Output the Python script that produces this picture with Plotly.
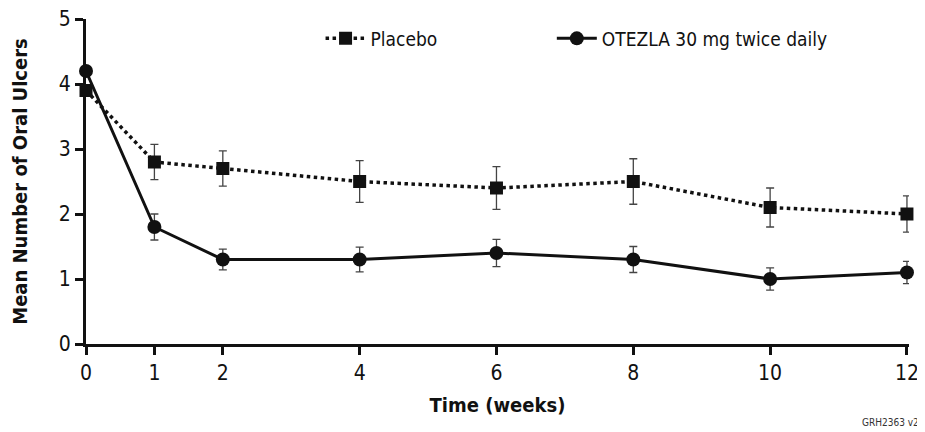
import plotly.graph_objects as go

weeks = [0, 1, 2, 4, 6, 8, 10, 12]
placebo = [3.9, 2.8, 2.7, 2.5, 2.4, 2.5, 2.1, 2.0]
placebo_err = [0, 0.27, 0.27, 0.32, 0.33, 0.35, 0.30, 0.28]
otezla = [4.2, 1.8, 1.3, 1.3, 1.4, 1.3, 1.0, 1.1]
otezla_err = [0, 0.2, 0.16, 0.19, 0.21, 0.2, 0.17, 0.17]
x_ticks = [0, 1, 2, 4, 6, 8, 10, 12]
y_ticks = [0, 1, 2, 3, 4, 5]

FONT = "DejaVu Sans Condensed, Liberation Sans Narrow, sans-serif"

fig = go.Figure()
fig.add_trace(go.Scatter(
    x=weeks, y=placebo, name="Placebo", mode="lines+markers", legend="legend",
    line=dict(color="#111111", width=3.5, dash="dot"),
    marker=dict(symbol="square", size=13, color="#111111"),
    error_y=dict(type="data", array=placebo_err, color="#444444", thickness=1.3, width=4),
    cliponaxis=False,
))
fig.add_trace(go.Scatter(
    x=weeks, y=otezla, name="OTEZLA 30 mg twice daily", mode="lines+markers", legend="legend2",
    line=dict(color="#111111", width=3),
    marker=dict(symbol="circle", size=14, color="#111111"),
    error_y=dict(type="data", array=otezla_err, color="#444444", thickness=1.3, width=4),
    cliponaxis=False,
))

leg_common = dict(orientation="h", yanchor="middle", xanchor="left",
                  font=dict(size=19, family=FONT, color="#111111"),
                  bgcolor="rgba(0,0,0,0)", itemwidth=40)

fig.update_layout(
    width=917, height=424,
    margin=dict(l=78, r=16, t=11, b=88, autoexpand=False),
    paper_bgcolor="white", plot_bgcolor="white",
    font=dict(family=FONT, color="#111111"),
    showlegend=True,
    legend=dict(x=0.285, y=0.94, **leg_common),
    legend2=dict(x=0.566, y=0.94, **leg_common),
    xaxis=dict(range=[0, 12.03], tickvals=x_ticks, ticktext=[str(v) for v in x_ticks],
               showgrid=False, zeroline=False, showline=True, linecolor="#111111", linewidth=3,
               ticks="outside", ticklen=8, tickwidth=3, tickcolor="#111111", automargin=False,
               ticklabeloverflow="allow",
               tickfont=dict(size=21, family=FONT),
               title=dict(text="<b>Time (weeks)</b>", font=dict(size=20, family=FONT), standoff=14)),
    yaxis=dict(range=[0, 5], tickvals=y_ticks, ticktext=[str(v) for v in y_ticks],
               showgrid=False, zeroline=False, showline=True, linecolor="#111111", linewidth=3,
               ticks="outside", ticklen=8, tickwidth=3, tickcolor="#111111", automargin=False,
               ticklabeloverflow="allow",
               tickfont=dict(size=21, family=FONT),
               title=dict(text="<b>Mean Number of Oral Ulcers</b>", font=dict(size=20, family=FONT), standoff=27)),
)
fig.add_annotation(text="GRH2363 v2", xref="paper", yref="paper", x=1.0146, y=-0.241,
                   xanchor="right", yanchor="middle", showarrow=False,
                   font=dict(size=10, family=FONT, color="#333333"))

fig.write_html("out.html")
